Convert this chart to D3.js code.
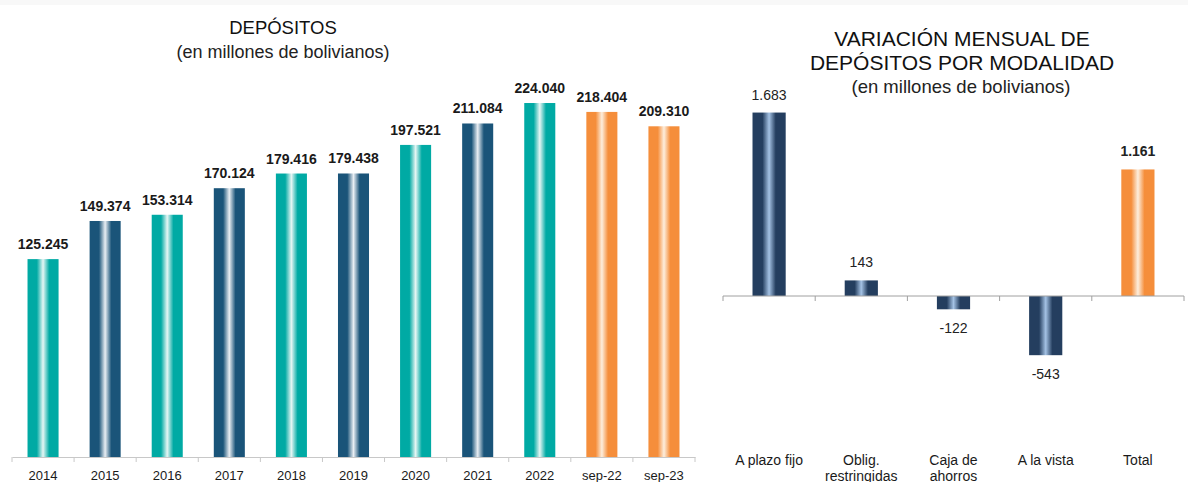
<!DOCTYPE html>
<html lang="es">
<head>
    <meta charset="UTF-8">
    <title>Depósitos</title>
    <script src="https://cdn.jsdelivr.net/npm/d3@7"></script>
    <style>
        body { margin: 0; background: #fff; }
        svg { display: block; font-family: "Liberation Sans", Arial, sans-serif; }
        .lbl { font-family: "Liberation Sans Narrow", "Liberation Sans", Arial, sans-serif; }
    </style>
</head>
<body>
<script>
    // datos: depositos anuales
    const years = ["2014", "2015", "2016", "2017", "2018", "2019", "2020", "2021", "2022", "sep-22", "sep-23"];
    const deposits = [125245, 149374, 153314, 170124, 179416, 179438, 197521, 211084, 224040, 218404, 209310];
    const depositColors = ["teal", "blue", "teal", "blue", "teal", "blue", "teal", "blue", "teal", "orange", "orange"];

    // datos: variacion mensual por modalidad
    const modes = ["A plazo fijo", "Oblig.|restringidas", "Caja de|ahorros", "A la vista", "Total"];
    const variation = [1683, 143, -122, -543, 1161];
    const variationColors = ["navy", "navy", "navy", "navy", "orange"];

    // separador de miles con punto, signo menos con guion
    const fmt = v => d3.format(",")(v).replace(/,/g, ".").replace("\u2212", "-");

    const width = 1188, height = 482;
    const svg = d3.select("body").append("svg")
        .attr("width", width)
        .attr("height", height);

    // franja gris clara arriba
    svg.append("rect").attr("x", 0).attr("y", 0).attr("width", width).attr("height", 5).attr("fill", "#f8f8f8");

    const defs = svg.append("defs");
    const palettes = {
        teal:   ["#00aaa4", "#e6f6f4"],
        blue:   ["#1a5479", "#e9eef3"],
        orange: ["#f58e3b", "#fdeedd"],
        navy:   ["#243e5f", "#a4c2e4"]
    };
    Object.entries(palettes).forEach(([k, c]) => {
        const g = defs.append("linearGradient").attr("id", "g-" + k)
            .attr("x1", "0%").attr("x2", "100%").attr("y1", "0%").attr("y2", "0%");
        g.append("stop").attr("offset", "0%").attr("stop-color", c[0]);
        g.append("stop").attr("offset", "30%").attr("stop-color", c[0]);
        g.append("stop").attr("offset", "50%").attr("stop-color", c[1]);
        g.append("stop").attr("offset", "70%").attr("stop-color", c[0]);
        g.append("stop").attr("offset", "100%").attr("stop-color", c[0]);
    });

    //---------- grafico izquierdo ----------
    const x1 = d3.scaleBand().domain(years).range([12, 695]).paddingInner(0.5).paddingOuter(0.25);
    const y1 = d3.scaleLinear().domain([0, 250000]).range([457, 62]);

    const left = svg.append("g");

    left.append("text").attr("x", 283).attr("y", 34)
        .attr("text-anchor", "middle").attr("font-size", 18.5).attr("fill", "#111")
        .text("DEPÓSITOS");
    left.append("text").attr("x", 283).attr("y", 58)
        .attr("text-anchor", "middle").attr("font-size", 18).attr("fill", "#222")
        .text("(en millones de bolivianos)");

    left.selectAll(".bar")
        .data(deposits)
        .enter().append("rect")
        .attr("class", "bar")
        .attr("x", (d, i) => x1(years[i]))
        .attr("y", d => y1(d))
        .attr("width", x1.bandwidth())
        .attr("height", d => y1(0) - y1(d))
        .attr("fill", (d, i) => "url(#g-" + depositColors[i] + ")");

    left.selectAll(".val")
        .data(deposits)
        .enter().append("text")
        .attr("class", "lbl")
        .attr("x", (d, i) => x1(years[i]) + x1.bandwidth() / 2)
        .attr("y", d => y1(d) - 10)
        .attr("text-anchor", "middle")
        .attr("font-size", 14).attr("font-weight", "bold").attr("fill", "#1a1a1a")
        .text(d => fmt(d));

    const ax1 = left.append("g").attr("transform", "translate(0,457)")
        .call(d3.axisBottom(x1).tickSize(0).tickPadding(14));
    ax1.select(".domain").attr("stroke", "#c8c8c8");
    ax1.selectAll("text").attr("class", "lbl").attr("font-size", 13).attr("fill", "#1a1a1a")
        .attr("font-family", null);
    left.selectAll(".sep1")
        .data(d3.range(years.length + 1))
        .enter().append("line")
        .attr("x1", i => 12 + i * x1.step())
        .attr("x2", i => 12 + i * x1.step())
        .attr("y1", 457).attr("y2", 462)
        .attr("stroke", "#c8c8c8");

    //---------- grafico derecho ----------
    const x2 = d3.scaleBand().domain(modes).range([723, 1184]).paddingInner(0.64).paddingOuter(0.32);
    const y2 = d3.scaleLinear().domain([-1500, 2000]).range([459.5, 78]);

    const right = svg.append("g");

    right.append("text").attr("x", 962).attr("y", 46)
        .attr("text-anchor", "middle").attr("font-size", 21).attr("fill", "#111")
        .text("VARIACIÓN MENSUAL DE");
    right.append("text").attr("x", 962).attr("y", 70)
        .attr("text-anchor", "middle").attr("font-size", 21).attr("fill", "#111")
        .text("DEPÓSITOS POR MODALIDAD");
    right.append("text").attr("x", 961).attr("y", 93)
        .attr("text-anchor", "middle").attr("font-size", 18.5).attr("fill", "#222")
        .text("(en millones de bolivianos)");

    right.selectAll(".bar2")
        .data(variation)
        .enter().append("rect")
        .attr("x", (d, i) => x2(modes[i]))
        .attr("y", d => y2(Math.max(0, d)))
        .attr("width", x2.bandwidth())
        .attr("height", d => Math.abs(y2(d) - y2(0)))
        .attr("fill", (d, i) => "url(#g-" + variationColors[i] + ")");

    right.selectAll(".val2")
        .data(variation)
        .enter().append("text")
        .attr("x", (d, i) => x2(modes[i]) + x2.bandwidth() / 2)
        .attr("y", d => d >= 0 ? y2(d) - 13 : y2(d) + 24)
        .attr("text-anchor", "middle")
        .attr("font-size", 14)
        .attr("font-weight", (d, i) => i === modes.length - 1 ? "bold" : "normal")
        .attr("fill", "#222")
        .text(d => fmt(d));

    right.append("line").attr("x1", 723).attr("x2", 1184)
        .attr("y1", y2(0)).attr("y2", y2(0)).attr("stroke", "#a0a0a0");
    right.selectAll(".tick2")
        .data(d3.range(modes.length + 1))
        .enter().append("line")
        .attr("x1", i => 723 + i * x2.step())
        .attr("x2", i => 723 + i * x2.step())
        .attr("y1", y2(0)).attr("y2", y2(0) + 5)
        .attr("stroke", "#a0a0a0");

    const cat = right.selectAll(".cat")
        .data(modes)
        .enter().append("text")
        .attr("class", "lbl")
        .attr("x", d => x2(d) + x2.bandwidth() / 2)
        .attr("y", 465)
        .attr("text-anchor", "middle")
        .attr("font-size", 14).attr("fill", "#1a1a1a");
    cat.each(function(d) {
        d.split("|").forEach((t, j) => {
            d3.select(this).append("tspan")
                .attr("x", d3.select(this).attr("x"))
                .attr("dy", j === 0 ? 0 : 16)
                .text(t);
        });
    });
</script>
</body>
</html>
